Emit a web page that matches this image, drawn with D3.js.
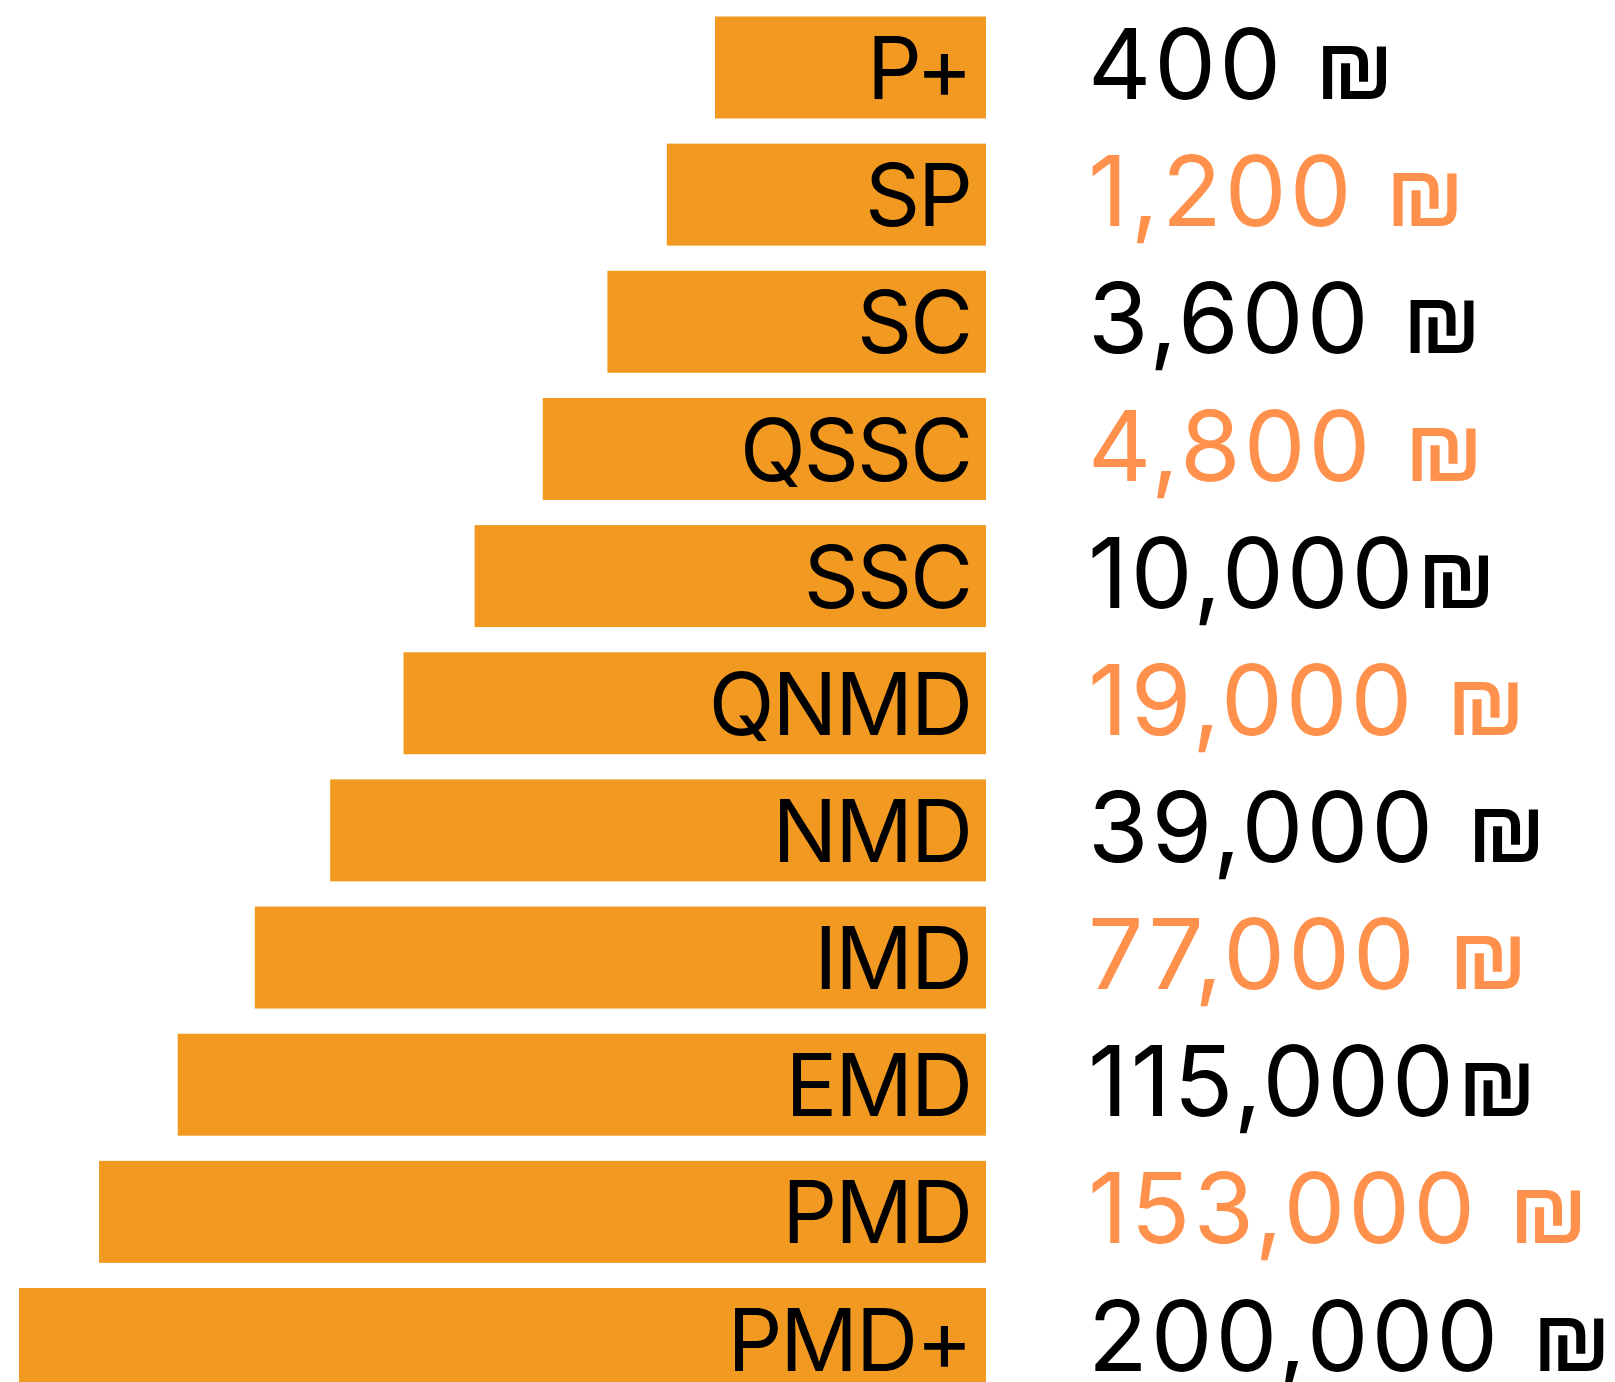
<!DOCTYPE html>
<html>
<head>
<meta charset="utf-8">
<script src="https://cdn.jsdelivr.net/npm/d3@7"></script>
<style>
  body { margin: 0; background: #fff; }
  svg { display: block; }
</style>
</head>
<body>
<div id="chart"></div>
<script>
"use strict";

// tiers, smallest to largest
const tiers = ["P+", "SP", "SC", "QSSC", "SSC", "QNMD", "NMD", "IMD", "EMD", "PMD", "PMD+"];
const prices = [400, 1200, 3600, 4800, 10000, 19000, 39000, 77000, 115000, 153000, 200000];
// the source squeezes the shekel sign against two of the numbers
const signGap = [" ", " ", " ", " ", "", " ", " ", " ", "", " ", " "];

const width = 1615, height = 1382;
const barRight = 986;

const svg = d3.select("#chart").append("svg")
  .attr("width", width)
  .attr("height", height);

const y = d3.scaleBand()
  .domain(tiers)
  .range([16.5, 1390])
  .paddingInner(0.198)
  .paddingOuter(0);

// bars grow with the tier rank (pyramid), not with the price
const w = d3.scalePow()
  .exponent(1.16)
  .domain([0, tiers.length - 1])
  .range([271, 967]);

const fmt = d3.format(",");

const rows = svg.selectAll(".row")
  .data(tiers)
  .enter()
  .append("g")
    .attr("class", "row")
    .attr("transform", d => "translate(0," + y(d) + ")");

rows.append("rect")
  .attr("x", (d, i) => barRight - w(i))
  .attr("y", 0)
  .attr("width", (d, i) => w(i))
  .attr("height", y.bandwidth())
  .attr("fill", "#f19920");

rows.append("text")
  .text(d => d)
  .attr("x", barRight - 15)
  .attr("y", y.bandwidth() * 0.81)
  .attr("text-anchor", "end")
  .attr("font-family", "Inter, 'Noto Sans', sans-serif")
  .attr("font-size", "86px")
  .attr("letter-spacing", "-2px")
  .attr("fill", "#000");

rows.append("text")
  .text((d, i) => fmt(prices[i]) + signGap[i] + "\u20AA")
  .attr("x", 1088)
  .attr("y", y.bandwidth() * 0.81)
  .attr("font-family", "Inter, 'Noto Sans', sans-serif")
  .attr("font-size", "98px")
  .attr("letter-spacing", "3px")
  .attr("fill", (d, i) => i % 2 === 0 ? "#000" : "#ff914d");
</script>
</body>
</html>
